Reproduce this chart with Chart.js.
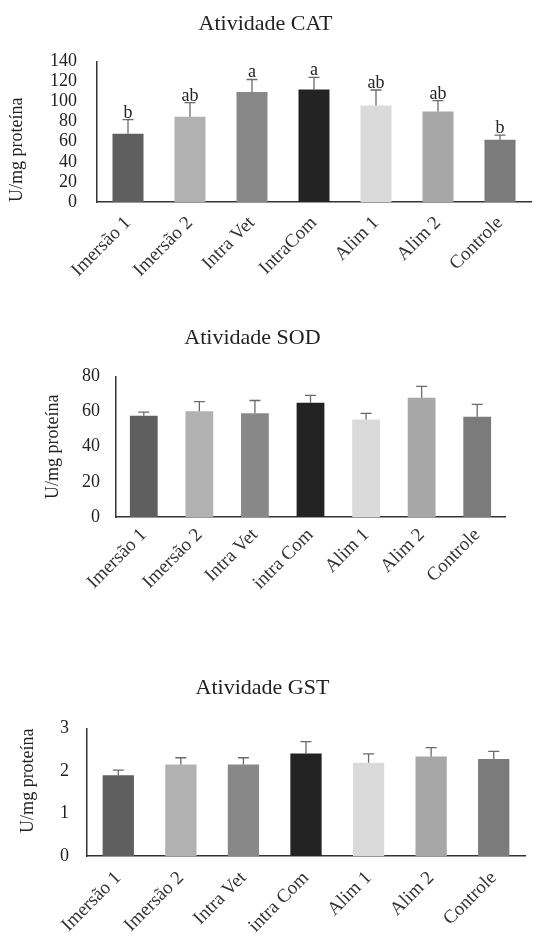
<!DOCTYPE html>
<html>
<head>
<meta charset="utf-8">
<script src="https://cdn.jsdelivr.net/npm/chart.js@4.4.1/dist/chart.umd.min.js"></script>
<style>
  body { margin: 0; background: #fff; }
  .box { position: absolute; left: 0; width: 535px; }
</style>
</head>
<body>
<div class="box" style="top:0;height:300px"><canvas id="catChart" width="535" height="300"></canvas></div>
<div class="box" style="top:300px;height:310px"><canvas id="sodChart" width="535" height="310"></canvas></div>
<div class="box" style="top:620px;height:314px"><canvas id="gstChart" width="535" height="314"></canvas></div>
<script>
const catLabels = ["Imersão 1", "Imersão 2", "Intra Vet", "IntraCom", "Alim 1", "Alim 2", "Controle"];
const otherLabels = ["Imersão 1", "Imersão 2", "Intra Vet", "intra Com", "Alim 1", "Alim 2", "Controle"];

const catValues = [68, 85, 109.5, 112, 96, 90, 62];
const catErrors = [14, 14, 12.5, 12, 15.5, 11, 4.5];
const catLetters = ["b", "ab", "a", "a", "ab", "ab", "b"];

const sodValues = [57.6, 60.1, 59.1, 65, 55.5, 67.9, 57.1];
const sodErrors = [2.1, 5.5, 7.2, 4.2, 3.5, 6.4, 7];

const gstValues = [1.9, 2.15, 2.15, 2.41, 2.19, 2.34, 2.28];
const gstErrors = [0.12, 0.16, 0.16, 0.28, 0.21, 0.21, 0.18];

const barColors = ["#5f5f5f", "#b1b1b1", "#888888", "#232323", "#dadada", "#a7a7a7", "#7b7b7b"];

const serif = "'Liberation Serif', 'Times New Roman', serif";

// draws the upper half of the error bar plus the significance letters
const errorBars = {
  id: "errorBars",
  afterDatasetsDraw(chart, args, opts) {
    const ctx = chart.ctx;
    const y = chart.scales.y;
    const vals = chart.data.datasets[0].data;
    const meta = chart.getDatasetMeta(0);
    ctx.save();
    ctx.strokeStyle = "#6a6a6a";
    ctx.lineWidth = 1.3;
    ctx.fillStyle = "#222";
    ctx.font = "18px " + serif;
    ctx.textAlign = "center";
    ctx.textBaseline = "alphabetic";
    meta.data.forEach((bar, i) => {
      const top = y.getPixelForValue(vals[i] + opts.errors[i]);
      ctx.beginPath();
      ctx.moveTo(bar.x, bar.y);
      ctx.lineTo(bar.x, top);
      ctx.moveTo(bar.x - 5.5, top);
      ctx.lineTo(bar.x + 5.5, top);
      ctx.stroke();
      if (opts.letters) {
        ctx.fillText(opts.letters[i], bar.x, top - 2);
      }
    });
    ctx.restore();
  }
};

const makeChart = (id, s) => {
  return new Chart(document.getElementById(id), {
    type: "bar",
    data: {
      labels: s.labels,
      datasets: [{
        data: s.values,
        backgroundColor: barColors,
        borderWidth: 0,
        categoryPercentage: 1,
        barPercentage: 0.5
      }]
    },
    plugins: [errorBars],
    options: {
      responsive: false,
      animation: false,
      layout: { padding: { left: 0, right: s.padRight, top: 0, bottom: 0 } },
      plugins: {
        legend: { display: false },
        tooltip: { enabled: false },
        title: {
          display: true,
          text: s.title,
          color: "#222",
          font: { family: serif, size: 22, weight: "normal" },
          padding: { top: s.titleTop, bottom: s.titleBottom }
        },
        errorBars: { errors: s.errors, letters: s.letters }
      },
      scales: {
        x: {
          grid: { display: false, drawTicks: false },
          border: { display: true, color: "#333", width: 1.5 },
          ticks: {
            color: "#333",
            font: { family: serif, size: 19 },
            minRotation: 45,
            maxRotation: 45,
            autoSkip: false,
            padding: s.xPad
          },
          afterFit: (scale) => {
            scale.height = s.xHeight;
            scale.paddingLeft = 0;
            scale.paddingRight = 0;
          }
        },
        y: {
          min: 0,
          max: s.max,
          grid: { display: false, drawTicks: false },
          border: { display: true, color: "#333", width: 1.5 },
          ticks: {
            stepSize: s.step,
            autoSkip: false,
            color: "#222",
            font: { family: serif, size: 18, lineHeight: 1 },
            padding: s.tickPad
          },
          title: {
            display: true,
            text: "U/mg proteína",
            color: "#222",
            font: { family: serif, size: 18 },
            align: s.yTitleAlign,
            padding: { top: s.yTitlePad, bottom: 0 }
          },
          afterFit: (scale) => {
            scale.width = s.yWidth;
            scale.paddingTop = 0;
            scale.paddingBottom = 0;
          }
        }
      }
    }
  });
};

makeChart("catChart", {
  labels: catLabels, values: catValues, errors: catErrors, letters: catLetters,
  title: "Atividade CAT", max: 140, step: 20,
  titleTop: 11, titleBottom: 24, xHeight: 98, yWidth: 97, padRight: 4,
  tickPad: 20, yTitlePad: 6, yTitleAlign: "start", xPad: 10
});

makeChart("sodChart", {
  labels: otherLabels, values: sodValues, errors: sodErrors, letters: null,
  title: "Atividade SOD", max: 80, step: 20,
  titleTop: 25, titleBottom: 25, xHeight: 93, yWidth: 116, padRight: 30,
  tickPad: 16, yTitlePad: 42, yTitleAlign: "center", xPad: 7
});

makeChart("gstChart", {
  labels: otherLabels, values: gstValues, errors: gstErrors, letters: null,
  title: "Atividade GST", max: 3, step: 1,
  titleTop: 55, titleBottom: 27, xHeight: 78, yWidth: 87, padRight: 10,
  tickPad: 18, yTitlePad: 17, yTitleAlign: "end", xPad: 11
});
</script>
</body>
</html>
